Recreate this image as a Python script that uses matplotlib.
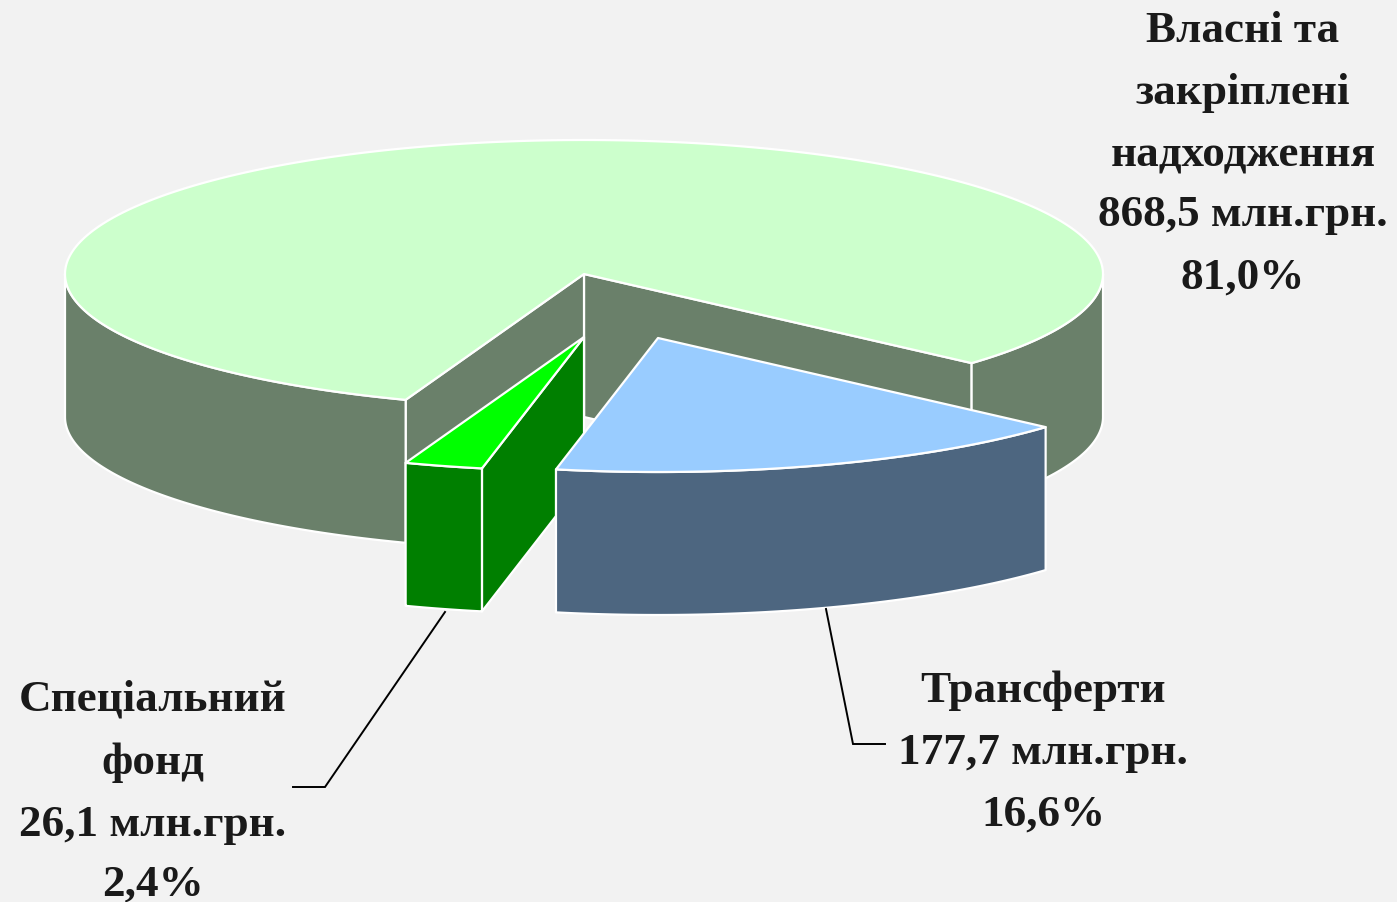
import numpy as np
import matplotlib
matplotlib.use("Agg")
import matplotlib.pyplot as plt
from matplotlib.patches import Polygon

# Data
categories = ["Власні та\nзакріплені\nнадходження", "Спеціальний\nфонд", "Трансферти"]
amount_values = [868.5, 26.1, 177.7]
amounts = ["868,5 млн.грн.", "26,1 млн.грн.", "177,7 млн.грн."]
share_labels = ["81,0%", "2,4%", "16,6%"]

# Style / layout
BG = "#F2F2F2"
TOP = ["#CCFFCC", "#00FF00", "#99CCFF"]
SIDE = ["#6A806A", "#007F00", "#4D6680"]
RX, RY, DEPTH = 519, 134, 143
START = 249.9
CENTERS = [(584, 275), (584, 338), (658, 339)]
EDGE = dict(edgecolor="white", linewidth=1.6, joinstyle="round")

fig = plt.figure(figsize=(13.97, 9.03), dpi=100, facecolor=BG)
ax = fig.add_axes([0, 0, 1, 1])
ax.set_xlim(0, 1397)
ax.set_ylim(903, 0)
ax.axis("off")

sweep = np.array(amount_values) / sum(amount_values) * 360
spans = {
    0: (START - sweep[0], START),
    1: (START, START + sweep[1]),
    2: (START + sweep[1], START + sweep[1] + sweep[2]),
}


def pt(c, deg, dz=0):
    t = np.radians(deg)
    return np.array([c[0] + RX * np.cos(t), c[1] - RY * np.sin(t) + dz])


def arc(c, d0, d1, dz=0, n=200):
    return np.array([pt(c, d, dz) for d in np.linspace(d0, d1, n)])


def wall_outer(i, d0, d1):
    c = CENTERS[i]
    top = arc(c, d0, d1)
    bot = arc(c, d0, d1, DEPTH)[::-1]
    ax.add_patch(Polygon(np.vstack([top, bot]), closed=True, facecolor=SIDE[i], **EDGE))


def wall_cut(i, d):
    c = CENTERS[i]
    p = pt(c, d)
    ax.add_patch(Polygon([c, p, p + [0, DEPTH], np.array(c) + [0, DEPTH]], closed=True,
                         facecolor=SIDE[i], **EDGE))


def top_face(i):
    c = CENTERS[i]
    d0, d1 = spans[i]
    ax.add_patch(Polygon(np.vstack([[c], arc(c, d0, d1, n=400)]), closed=True,
                         facecolor=TOP[i], **EDGE))


# Main slice
wall_cut(0, spans[0][0])
wall_cut(0, spans[0][1])
wall_outer(0, 180, spans[0][1])
wall_outer(0, spans[0][0], 0)
top_face(0)

# Special fund slice
wall_cut(1, spans[1][1])
wall_outer(1, spans[1][0], spans[1][1])
top_face(1)

# Transfers slice
wall_outer(2, spans[2][0], spans[2][1])
top_face(2)

# Leaders
ax.plot([445, 325, 293], [613, 788, 788], color="black", lw=1.4, solid_joinstyle="miter")
ax.plot([826, 853, 885], [610, 745, 745], color="black", lw=1.4, solid_joinstyle="miter")

FONT = dict(family="Liberation Serif", fontweight="bold", fontsize=32.5, color="#1a1a1a",
            ha="center", va="center")
main_lines = categories[0].split("\n") + [amounts[0], share_labels[0]]
for y, s in zip([31, 93, 155, 215, 278], main_lines):
    ax.text(1243, y, s, **FONT)
spec_lines = categories[1].split("\n") + [amounts[1], share_labels[1]]
for y, s in zip([700, 763, 825, 885], spec_lines):
    ax.text(153, y, s, **FONT)
tr_lines = [categories[2], amounts[2], share_labels[2]]
for y, s in zip([691, 753, 815], tr_lines):
    ax.text(1043, y, s, **FONT)

fig.savefig("out.png", dpi=100, facecolor=BG)
